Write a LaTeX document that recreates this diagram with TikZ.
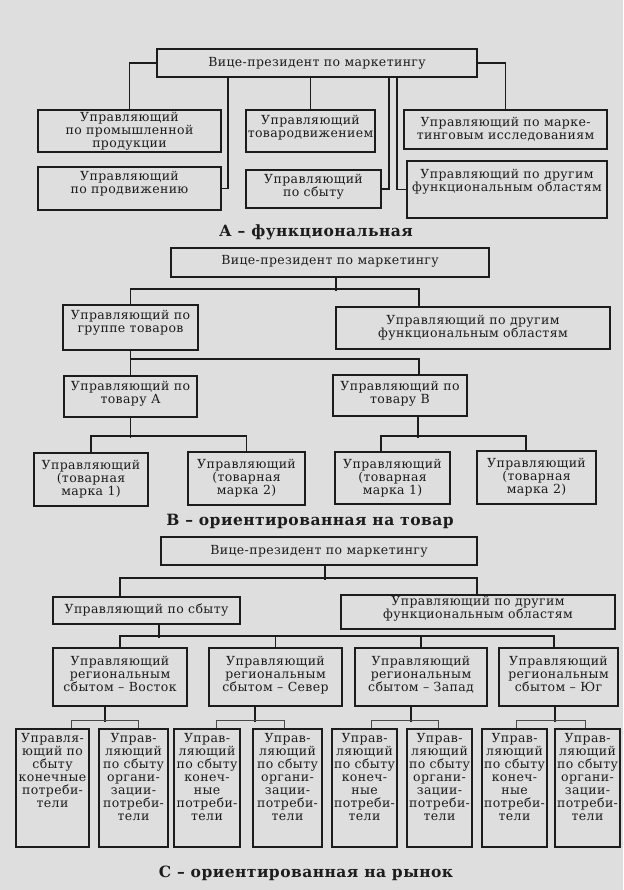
\documentclass[tikz,border=0pt]{standalone}
\usepackage{fontspec}
\setmainfont{DejaVu Serif}[LetterSpace=3]

\definecolor{paper}{HTML}{DEDEDE}
\definecolor{ink}{HTML}{1C1C1C}

\begin{document}
\begin{tikzpicture}[
    x=1pt,y=-1pt,font=\fontsize{12.5}{13}\selectfont,
    post/.style={draw=ink,text=ink,line width=1.8pt,align=center,inner sep=1pt},
    link/.style={draw=ink,line width=1.6pt},
    bus/.style={draw=ink!80,line width=.9pt},
    lifted/.style={text depth=#1},
    headline/.style={text=ink,font=\fontsize{15.5}{18}\selectfont\bfseries}
]
    \fill[paper] (0,0) rectangle (623,890);

    % A: functional structure
    \node[post,minimum width=320,minimum height=28] (vpA) at (317,63) {Вице-президент по маркетингу};
    \node[post,minimum width=183,minimum height=42] (prod) at (129.5,131) {Управляющий\\по промышленной\\продукции};
    \node[post,minimum width=183,minimum height=43,lifted=12pt] (promo) at (129.5,188.5) {Управляющий\\по продвижению};
    \node[post,minimum width=129,minimum height=42,lifted=9pt] (distr) at (310.5,131) {Управляющий\\товародвижением};
    \node[post,minimum width=135,minimum height=38,lifted=8pt] (salesA) at (313.5,189) {Управляющий\\по сбыту};
    \node[post,minimum width=203,minimum height=39] (research) at (505.5,129.5) {Управляющий по марке-\\тинговым исследованиям};
    \node[post,minimum width=200,minimum height=57,lifted=19pt] (otherA) at (507,189.5) {Управляющий по другим\\функциональным областям};
    \node[headline] (capA) at (316,232) {А – функциональная};

    \draw[link] (vpA.west) -| (prod.north);
    \draw[link] (vpA.south -| 228,0) |- (promo.east);
    \draw[link] (vpA.south -| distr.north) -- (distr.north);
    \draw[link] (vpA.south -| 389,0) |- (salesA.east);
    \draw[link] (vpA.south -| 397,0) |- (otherA.west);
    \draw[link] (vpA.east) -| (research.north);

    % B: product structure
    \node[post,minimum width=318,minimum height=29,lifted=6pt] (vpB) at (330,262.5) {Вице-президент по маркетингу};
    \node[post,minimum width=135,minimum height=45,lifted=12pt] (group) at (130.5,327.5) {Управляющий по\\группе товаров};
    \node[post,minimum width=274,minimum height=42] (otherB) at (473,328) {Управляющий по другим\\функциональным областям};
    \node[post,minimum width=133,minimum height=41,lifted=8pt] (itemA) at (130.5,396.5) {Управляющий по\\товару А};
    \node[post,minimum width=134,minimum height=41,lifted=7pt] (itemB) at (400,395.5) {Управляющий по\\товару В};
    \node[post,minimum width=114,minimum height=53] (brandA1) at (91,479.5) {Управляющий\\(товарная\\марка 1)};
    \node[post,minimum width=117,minimum height=53] (brandA2) at (246.5,478.5) {Управляющий\\(товарная\\марка 2)};
    \node[post,minimum width=115,minimum height=52] (brandB1) at (392.5,478) {Управляющий\\(товарная\\марка 1)};
    \node[post,minimum width=119,minimum height=53] (brandB2) at (536.5,477.5) {Управляющий\\(товарная\\марка 2)};
    \node[headline] (capB) at (310,521) {В – ориентированная на товар};

    \draw[link] (vpB.south -| 336,0) -- ++(0,13);
    \draw[link] (group.north) -- ++(0,-15) -| (otherB.north -| 419,0);
    \draw[link] (group.south) -- (itemA.north);
    \draw[link] (itemA.north) ++(0,-16) -| (itemB.north -| 419,0);
    \draw[link] (itemA.south) -- ++(0,20);
    \draw[link] (brandA1.north) -- ++(0,-16) -| (brandA2.north);
    \draw[link] (itemB.south -| 418,0) -- ++(0,21);
    \draw[link] (brandB1.north -| 381,0) -- ++(0,-15) -| (brandB2.north -| 526,0);

    % C: market structure
    \node[post,minimum width=316,minimum height=28] (vpC) at (319,551) {Вице-президент по маркетингу};
    \node[post,minimum width=187,minimum height=27] (salesC) at (146.5,610.5) {Управляющий по сбыту};
    \node[post,minimum width=274,minimum height=34,lifted=9pt] (otherC) at (478,612) {Управляющий по другим\\функциональным областям};
    \foreach \name/\x/\w/\side in {regE/120/134/Восток,regN/275.5/133/Север,regW/421/132/Запад,regS/558.5/119/Юг}
        \node[post,minimum width=\w,minimum height=58,lifted=6pt] (\name) at (\x,677) {Управляющий\\региональным\\сбытом – \side};

    \draw[link] (vpC.south -| 325,0) -- ++(0,14);
    \draw[link] (salesC.north -| 120,0) -- ++(0,-18) -| (otherC.north -| 477,0);
    \draw[link] (salesC.south -| 159,0) -- ++(0,13);
    \draw[link] (regE.north) -- ++(0,-11) -| (regS.north -| 554,0);
    \draw[link] (regN.north) -- ++(0,-11);
    \draw[link] (regW.north) -- ++(0,-11);

    \node[post,minimum width=73,minimum height=118,lifted=36pt] (endE) at (52.5,788) {Управля-\\ющий по\\сбыту\\конечные\\потреби-\\тели};
    \foreach \name/\x/\w in {endN/207/66,endW/364.5/65,endS/514.5/65}
        \node[post,minimum width=\w,minimum height=118,lifted=23pt] (\name) at (\x,788) {Управ-\\ляющий\\по сбыту\\конеч-\\ные\\потреби-\\тели};
    \foreach \name/\x/\w in {orgE/133.5/69,orgN/287.5/69,orgW/439.5/65,orgS/587.5/65}
        \node[post,minimum width=\w,minimum height=118,lifted=23pt] (\name) at (\x,788) {Управ-\\ляющий\\по сбыту\\органи-\\зации-\\потреби-\\тели};

    \foreach \up/\lo/\hi/\xu/\xl/\xh in {regE/endE/orgE/105/71/138,regN/endN/orgN/255/216/284,
        regW/endW/orgW/411/371/438,regS/endS/orgS/555/516/585} {
        \draw[link] (\up.south -| \xu,0) -- ++(0,15);
        \draw[bus] (\lo.north -| \xl,0) -- ++(0,-8) -| (\hi.north -| \xh,0);
    }
    \node[headline] (capC) at (306,873) {С – ориентированная на рынок};
\end{tikzpicture}
\end{document}
